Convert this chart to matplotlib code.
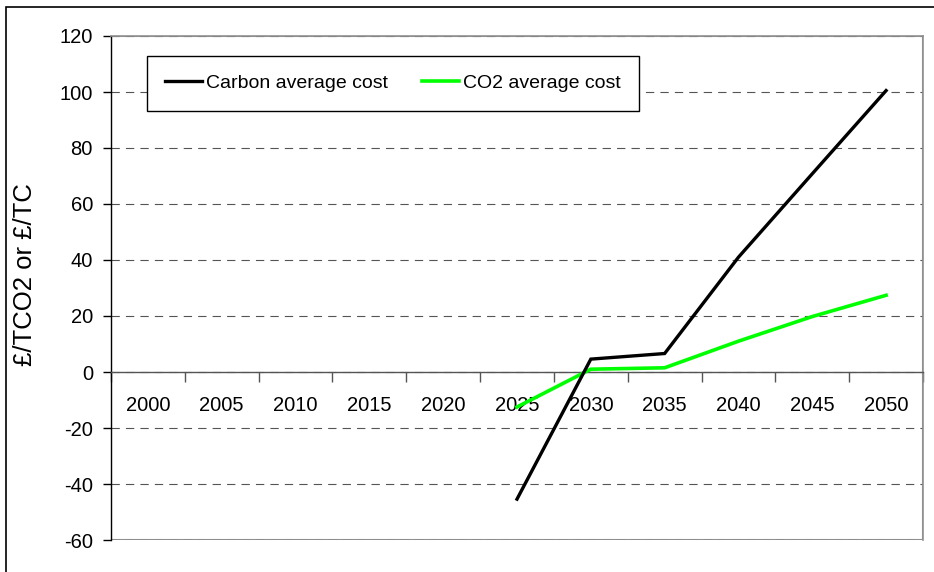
import numpy as np
import matplotlib
matplotlib.use("Agg")
import matplotlib.pyplot as plt
from matplotlib.patches import Rectangle

plt.rcParams['font.family'] = ['Liberation Sans', 'DejaVu Sans']
plt.rcParams['axes.unicode_minus'] = False

# Chart data
years = ['2000', '2005', '2010', '2015', '2020', '2025', '2030', '2035', '2040', '2045', '2050']
carbon_cost = [np.nan, np.nan, np.nan, np.nan, np.nan, -45.4, 4.6, 6.6, 41.0, 70.8, 100.5]
co2_cost = [np.nan, np.nan, np.nan, np.nan, np.nan, -12.5, 1.0, 1.5, 11.0, 19.8, 27.4]
y_ticks = [-60, -40, -20, 0, 20, 40, 60, 80, 100, 120]
y_label = '£/TCO2 or £/TC'

W, H = 934, 572
fig = plt.figure(figsize=(W / 100, H / 100), dpi=100)
ax = fig.add_axes([111 / W, 1 - 540 / H, (923 - 111) / W, (540 - 36) / H])

x = np.arange(len(years))
ax.plot(x, carbon_cost, color='black', lw=2.4, label='Carbon average cost', zorder=4,
        solid_joinstyle='miter')
ax.plot(x, co2_cost, color='#00ff00', lw=2.6, label='CO2 average cost', zorder=3,
        solid_joinstyle='miter')

ax.set_xlim(-0.5, len(years) - 0.5)
ax.set_ylim(y_ticks[0], y_ticks[-1])

# horizontal dashed gridlines
ax.set_yticks(y_ticks)
ax.yaxis.grid(True, color='#555555', lw=0.8, linestyle=(0, (7.5, 5.5)))
ax.set_axisbelow(True)

# plot area frame in gray, left axis black, category axis at y=0
for side in ['top', 'right']:
    ax.spines[side].set_color('#909090')
    ax.spines[side].set_linewidth(1.2)
ax.spines['left'].set_color('black')
ax.spines['left'].set_linewidth(1.0)
ax.spines['bottom'].set_position(('data', 0))
ax.spines['bottom'].set_color('#555555')
ax.spines['bottom'].set_linewidth(1.0)
ax.add_patch(Rectangle((0, 0), 1, 1, transform=ax.transAxes, fill=False,
                       ec='#909090', lw=1.5, zorder=0.5))

ax.set_xticks(x)
ax.set_xticklabels(years)
ax.set_xticks(np.arange(len(years) + 1) - 0.5, minor=True)
ax.tick_params(axis='x', which='major', length=0, pad=17.5, labelsize=14.5)
ax.tick_params(axis='x', which='minor', length=7, width=1, color='#555555', direction='out')
ax.tick_params(axis='y', length=6, width=1, direction='out', pad=7, labelsize=14.5)

ax.set_ylabel(y_label, fontsize=18.5)
ax.yaxis.set_label_coords(-0.091, 0.526)

leg = ax.legend(ncol=2, loc='upper left', bbox_to_anchor=(147 / W, 1 - 56 / H),
                bbox_transform=fig.transFigure, borderaxespad=0, fancybox=False,
                framealpha=1, edgecolor='black', fontsize=14, handlelength=1.9,
                handletextpad=0.2, columnspacing=1.75, borderpad=0.95)
leg.get_frame().set_linewidth(1.0)

# outer chart border (only top and left visible)
fig.add_artist(Rectangle((6 / W, -0.2), 2, 1.2 - 7 / H, transform=fig.transFigure,
                         fill=False, ec='black', lw=1.2))

fig.savefig('out.png', dpi=100)
